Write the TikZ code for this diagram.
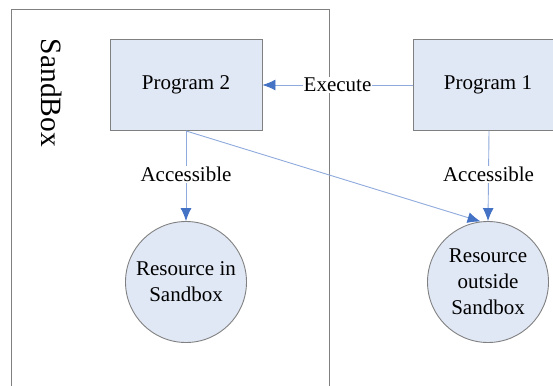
\documentclass[tikz,border=0pt]{standalone}
\usepackage{fontspec}
\setmainfont{Liberation Serif}
\usetikzlibrary{arrows.meta}
\definecolor{boxfill}{HTML}{E1E8F5}
\definecolor{edge}{HTML}{808080}
\definecolor{conn}{HTML}{8FAADC}
\definecolor{tip}{HTML}{4472C4}
\tikzset{
  prog/.style={draw=edge, line width=0.9pt, fill=boxfill, minimum width=152pt, minimum height=91pt, inner sep=0pt, font=\fontsize{21}{26}\selectfont},
  res/.style={draw=edge, line width=0.9pt, fill=boxfill, circle, minimum size=121pt, inner sep=0pt, align=center, font=\fontsize{21}{26}\selectfont},
  conn/.style={draw=conn, line width=0.9pt, -{Latex[length=13pt,width=11pt,fill=tip,color=tip]}},
  lbl/.style={fill=white, inner sep=1pt, font=\fontsize{21}{26}\selectfont}
}
\begin{document}
\begin{tikzpicture}[x=1pt,y=-1pt]
\useasboundingbox (0,0) rectangle (553,385);
\clip (0,0) rectangle (553,385);
\draw[edge, line width=0.9pt] (11,395) -- (11,9) -- (329,9) -- (329,395);
\node[rotate=-90, font=\fontsize{29.5}{32}\selectfont] (sb) at (52,93) {SandBox};
\node[prog] (p2) at (186,85) {Program 2};
\node[prog] (p1) at (489,85) {\hspace*{-2pt}Program 1};
\node[res] (r1) at (186,282) {Resource in\\Sandbox};
\node[res] (r2) at (488,282) {Resource\\outside\\Sandbox};
\draw[conn] (p1.west) -- node[lbl, pos=0.5] (ex) {Execute} (p2.east);
\draw[conn] (p2.south) -- node[lbl, pos=0.48] (a1) {Accessible} (r1.north);
\draw[conn] (p1.south) -- node[lbl, pos=0.48] (a2) {Accessible} (r2.north);
\draw[conn] (p2.south) -- (r2.97);
\end{tikzpicture}
\end{document}
